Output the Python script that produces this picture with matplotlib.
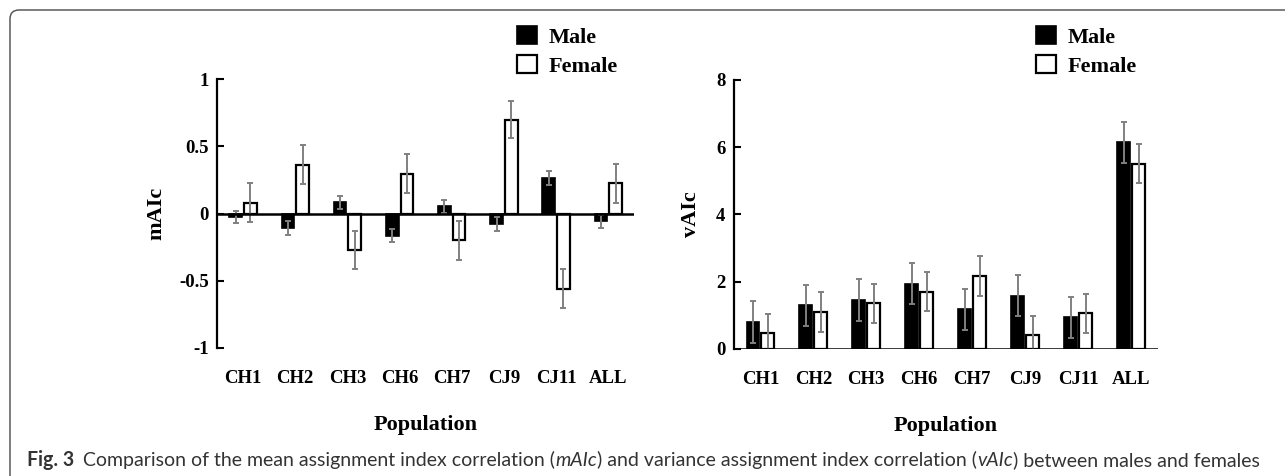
import numpy as np
import matplotlib
matplotlib.use('Agg')
import matplotlib.pyplot as plt
from matplotlib import font_manager
from matplotlib.patches import FancyBboxPatch
from matplotlib.transforms import IdentityTransform

# 数据
populations = ['CH1', 'CH2', 'CH3', 'CH6', 'CH7', 'CJ9', 'CJ11', 'ALL']

mAIc_male = [-0.025, -0.107, 0.082, -0.166, 0.055, -0.077, 0.263, -0.057]
mAIc_male_err = [0.047, 0.05, 0.047, 0.05, 0.048, 0.05, 0.051, 0.049]
mAIc_female = [0.08, 0.365, -0.273, 0.298, -0.199, 0.70, -0.561, 0.226]
mAIc_female_err = [0.145, 0.145, 0.14, 0.143, 0.145, 0.14, 0.146, 0.145]

vAIc_male = [0.79, 1.29, 1.45, 1.93, 1.17, 1.58, 0.93, 6.14]
vAIc_male_err = [0.62, 0.62, 0.62, 0.61, 0.62, 0.62, 0.62, 0.62]
vAIc_female = [0.46, 1.10, 1.35, 1.70, 2.17, 0.42, 1.05, 5.50]
vAIc_female_err = [0.56, 0.59, 0.58, 0.57, 0.59, 0.56, 0.58, 0.58]

mAIc_ticks = [-1, -0.5, 0, 0.5, 1]
mAIc_ticklabels = ['-1', '-0.5', '0', '0.5', '1']
vAIc_ticks = [0, 2, 4, 6, 8]
vAIc_ticklabels = ['0', '2', '4', '6', '8']

W, H = 1285, 476
SERIF = 'Liberation Serif'

names = {f.name for f in font_manager.fontManager.ttflist}
cap_font = 'Lato' if 'Lato' in names else 'Open Sans'

fig = plt.figure(figsize=(W / 100, H / 100), dpi=100)


def px_rect(x0, y_top, x1, y_bottom):
    return [x0 / W, 1 - y_bottom / H, (x1 - x0) / W, (y_bottom - y_top) / H]


def draw_panel(ax, male, male_err, female, female_err, ylim, yticks, yticklabels,
               ylabel, ylabelpad, xpad, legend_xy):
    x = np.arange(len(populations))
    w, off = 0.243, 0.14
    b1 = ax.bar(x - off, male, w, color='black', edgecolor='black', linewidth=1.2,
                label='Male', zorder=2)
    b2 = ax.bar(x + off, female, w, color='white', edgecolor='black', linewidth=1.6,
                label='Female', zorder=2)
    ax.errorbar(x - off, male, yerr=male_err, fmt='none', ecolor='#808080',
                elinewidth=1.4, capsize=2.5, capthick=1.4, zorder=3)
    ax.errorbar(x + off, female, yerr=female_err, fmt='none', ecolor='#808080',
                elinewidth=1.4, capsize=2.5, capthick=1.4, zorder=3)
    ax.axhline(0, color='black', linewidth=1.8, zorder=4)

    ax.set_xlim(-0.5, 7.5)
    ax.set_ylim(ylim)
    for s in ['top', 'right', 'bottom']:
        ax.spines[s].set_visible(False)
    ax.spines['left'].set_linewidth(1.6)

    ax.set_xticks(x, populations)
    ax.tick_params(axis='x', length=0, pad=xpad)
    ax.set_yticks(yticks, yticklabels)
    ax.tick_params(axis='y', direction='in', length=5, width=1.5, pad=6)
    for lab in ax.get_xticklabels() + ax.get_yticklabels():
        lab.set_fontfamily(SERIF)
        lab.set_fontweight('bold')
        lab.set_fontsize(13.5)

    ax.set_ylabel(ylabel, fontfamily=SERIF, fontweight='bold', fontsize=16,
                  labelpad=ylabelpad)
    ax.set_xlabel('Population', fontfamily=SERIF, fontweight='bold', fontsize=16,
                  labelpad=20)

    ax.legend(handles=[b1, b2], loc='upper left',
              bbox_to_anchor=(legend_xy[0] / W, 1 - legend_xy[1] / H),
              bbox_transform=fig.transFigure, frameon=False, borderpad=0,
              borderaxespad=0, handlelength=0.9, handleheight=0.9,
              handletextpad=0.5, labelspacing=0.32,
              prop=dict(family=SERIF, weight='bold', size=16))


ax1 = fig.add_axes(px_rect(217, 79.3, 634.3, 347.7))
ax2 = fig.add_axes(px_rect(733.9, 80, 1157.6, 348.7))

draw_panel(ax1, mAIc_male, mAIc_male_err, mAIc_female, mAIc_female_err,
           (-1, 1), mAIc_ticks, mAIc_ticklabels, 'mAIc', 9, 16, (517, 26))
draw_panel(ax2, vAIc_male, vAIc_male_err, vAIc_female, vAIc_female_err,
           (0, 8), vAIc_ticks, vAIc_ticklabels, 'vAIc', 11, 16, (1036, 26))

# 外框（圆角，右侧和底部超出画面）
frame = FancyBboxPatch((10, -30), 1320, 466 + 30, boxstyle='round,pad=0,rounding_size=9',
                       transform=IdentityTransform(), facecolor='none',
                       edgecolor='#5a5a5a', linewidth=1.1)
fig.add_artist(frame)

# 图注
pieces = [('Fig. 3', 'bold', 'normal'),
          ('Comparison of the mean assignment index correlation (', 'normal', 'normal'),
          ('mAIc', 'normal', 'italic'),
          (') and variance assignment index correlation (', 'normal', 'normal'),
          ('vAIc', 'normal', 'italic'),
          (') between males and females', 'normal', 'normal')]


def place_caption(size):
    renderer = fig.canvas.get_renderer()
    x = 27
    out = []
    for i, (s, wgt, sty) in enumerate(pieces):
        t = fig.text(x / W, 10 / H, s, fontsize=size, fontweight=wgt, fontstyle=sty,
                     fontfamily=cap_font, color='#333333', va='baseline', ha='left')
        bb = t.get_window_extent(renderer)
        x = bb.x1 + (9 if i == 0 else 0)
        out.append(t)
    return out, x


fig.canvas.draw()
texts, x_end = place_caption(14)
width = x_end - 27 - 9
for t in texts:
    t.remove()
new_size = 14 * (1240 - 9) / width
place_caption(new_size)

fig.savefig('out.png', dpi=100)
